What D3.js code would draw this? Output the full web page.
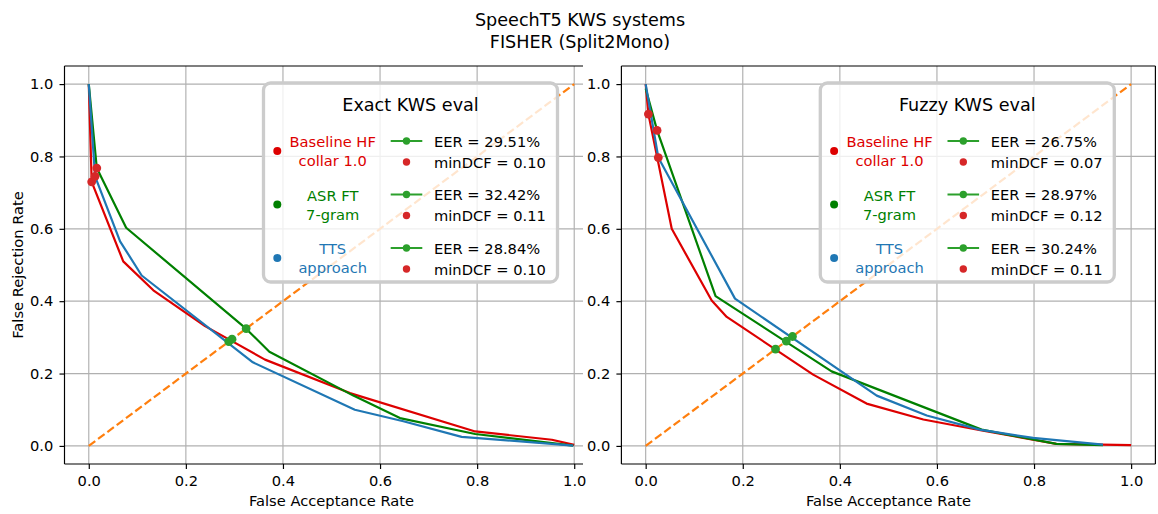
<!DOCTYPE html>
<html>
<head>
<meta charset="utf-8">
<script src="https://cdn.jsdelivr.net/npm/d3@7"></script>
<style>
  body { margin: 0; background: #fff; }
  svg { display: block; font-family: "DejaVu Sans", sans-serif; }
</style>
</head>
<body>
<svg id="chart" width="1158" height="514"></svg>
<script>
// ---- figure text ----
const figureTitle = ["SpeechT5 KWS systems", "FISHER (Split2Mono)"];
const xAxisLabel = "False Acceptance Rate";
const yAxisLabel = "False Rejection Rate";
const axisTicks = [0, 0.2, 0.4, 0.6, 0.8, 1.0];
const tickLabels = ["0.0", "0.2", "0.4", "0.6", "0.8", "1.0"];
const panelTitles = ["Exact KWS eval", "Fuzzy KWS eval"];
const systemNames = [["Baseline HF", "collar 1.0"], ["ASR FT", "7-gram"], ["TTS", "approach"]];

// ---- exact evaluation: DET curves (false acceptance, false rejection) ----
const exactBaselineFar = [0, 0.006, 0.071, 0.133, 0.2395, 0.363, 0.538, 0.796, 0.954, 1.0];
const exactBaselineFrr = [1.0, 0.730, 0.510, 0.430, 0.331, 0.2385, 0.146, 0.040, 0.017, 0.003];
const exactAsrFar = [0, 0.0165, 0.077, 0.324, 0.372, 0.545, 0.641, 0.796, 0.998];
const exactAsrFrr = [1.0, 0.768, 0.603, 0.324, 0.260, 0.139, 0.077, 0.033, 0.001];
const exactTtsFar = [0, 0.013, 0.0645, 0.109, 0.338, 0.548, 0.648, 0.768, 0.998];
const exactTtsFrr = [1.0, 0.745, 0.5655, 0.471, 0.231, 0.100, 0.068, 0.025, 0.001];
const exactEer = [29.51, 32.42, 28.84];
const exactMinDcf = [0.10, 0.11, 0.10];
const exactMinDcfFar = [0.006, 0.0165, 0.013];
const exactMinDcfFrr = [0.730, 0.768, 0.745];

// ---- fuzzy evaluation ----
const fuzzyBaselineFar = [0, 0.0056, 0.0537, 0.136, 0.167, 0.191, 0.345, 0.455, 0.572, 0.695, 0.846, 1.0];
const fuzzyBaselineFrr = [1.0, 0.917, 0.600, 0.402, 0.3565, 0.335, 0.197, 0.117, 0.073, 0.042, 0.0055, 0.002];
const fuzzyAsrFar = [0, 0.0235, 0.144, 0.383, 0.692, 0.846, 0.942];
const fuzzyAsrFrr = [0.988, 0.872, 0.414, 0.206, 0.045, 0.0055, 0.002];
const fuzzyTtsFar = [0, 0.026, 0.184, 0.476, 0.579, 0.688, 0.798, 0.942];
const fuzzyTtsFrr = [1.0, 0.797, 0.407, 0.139, 0.084, 0.045, 0.022, 0.0036];
const fuzzyEer = [26.75, 28.97, 30.24];
const fuzzyMinDcf = [0.07, 0.12, 0.11];
const fuzzyMinDcfFar = [0.0056, 0.0235, 0.026];
const fuzzyMinDcfFrr = [0.917, 0.872, 0.797];

// ---- styling ----
const systemColors = ["#dd0000", "#008000", "#1f77b4"];
const eerColor = "#2ca02c";
const dcfColor = "#d62728";
const diagColor = "#ff7f0e";
const gridColor = "#b0b0b0";
const fsTick = 14.66, fsTitle = 17.6;

const svg = d3.select("#chart");

function zipCurve(far, frr) { return far.map((v, i) => [v, frr[i]]); }

function drawPanel(cfg) {
  const g = svg.append("g");
  const x = d3.scaleLinear().domain([-0.05, 1.05]).range([cfg.left, cfg.left + 534]);
  const y = d3.scaleLinear().domain([-0.05, 1.05]).range([464, 66]);
  const frameRight = cfg.frameRight;
  const top = 66, bottom = 464;

  // grid
  g.append("g").selectAll("line").data(axisTicks).join("line")
    .attr("x1", d => x(d)).attr("x2", d => x(d)).attr("y1", top).attr("y2", bottom)
    .attr("stroke", gridColor).attr("stroke-width", 1.17);
  g.append("g").selectAll("line").data(axisTicks).join("line")
    .attr("x1", cfg.left).attr("x2", frameRight).attr("y1", d => y(d)).attr("y2", d => y(d))
    .attr("stroke", gridColor).attr("stroke-width", 1.17);

  // diagonal reference
  const line = d3.line().x(d => x(d[0])).y(d => y(d[1]));
  g.append("path").datum([[0, 0], [1, 1]]).attr("d", line)
    .attr("fill", "none").attr("stroke", diagColor).attr("stroke-width", 2.2)
    .attr("stroke-dasharray", "8.1,3.5");

  // curves
  cfg.curves.forEach((c, i) => {
    g.append("path").datum(c).attr("d", line)
      .attr("fill", "none").attr("stroke", systemColors[i]).attr("stroke-width", 2.2)
      .attr("stroke-linejoin", "round");
  });
  // EER markers
  cfg.eer.forEach(e => {
    g.append("circle").attr("cx", x(e / 100)).attr("cy", y(e / 100)).attr("r", 4.4).attr("fill", eerColor);
  });
  // minDCF operating points
  cfg.dcfFar.forEach((f, i) => {
    g.append("circle").attr("cx", x(f)).attr("cy", y(cfg.dcfFrr[i])).attr("r", 4.4).attr("fill", dcfColor);
  });

  // spines
  const sp = g.append("g").attr("stroke", "#000").attr("stroke-width", 1.17).attr("fill", "none");
  sp.append("line").attr("x1", cfg.left).attr("x2", cfg.left).attr("y1", top).attr("y2", bottom);
  sp.append("line").attr("x1", cfg.left).attr("x2", frameRight).attr("y1", top).attr("y2", top);
  sp.append("line").attr("x1", cfg.left).attr("x2", frameRight).attr("y1", bottom).attr("y2", bottom);
  if (cfg.rightSpine) sp.append("line").attr("x1", frameRight).attr("x2", frameRight).attr("y1", top).attr("y2", bottom);

  // axes
  const xa = g.append("g").attr("transform", `translate(0,${bottom})`)
    .call(d3.axisBottom(x).tickValues(axisTicks).tickFormat((d, i) => tickLabels[i]).tickSize(5).tickPadding(7));
  const ya = g.append("g").attr("transform", `translate(${cfg.left},0)`)
    .call(d3.axisLeft(y).tickValues(axisTicks).tickFormat((d, i) => tickLabels[i]).tickSize(5).tickPadding(6.2));
  [xa, ya].forEach(a => {
    a.select(".domain").remove();
    a.selectAll("line").attr("stroke", "#000").attr("stroke-width", 1.17);
    a.selectAll("text").attr("font-size", fsTick).attr("fill", "#000")
      .attr("font-family", "DejaVu Sans, sans-serif");
  });

  // x label
  g.append("text").attr("x", (cfg.left + cfg.left + 534) / 2).attr("y", 500)
    .attr("text-anchor", "middle").attr("dominant-baseline", "central")
    .attr("font-size", fsTick).text(xAxisLabel);

  // legend
  const dx = cfg.legendDx;
  const lg = g.append("g");
  lg.append("rect").attr("x", 263.5 + dx).attr("y", 83).attr("width", 294).attr("height", 199)
    .attr("rx", 7).attr("fill", "#fff").attr("fill-opacity", 0.8)
    .attr("stroke", "#cccccc").attr("stroke-width", 3.3);
  lg.append("text").attr("x", 410.5 + dx).attr("y", 105)
    .attr("text-anchor", "middle").attr("dominant-baseline", "central")
    .attr("font-size", fsTitle).attr("fill", "#000").text(cfg.title);
  const rowY = [151, 204.5, 258];
  systemNames.forEach((nm, i) => {
    const ry = rowY[i];
    lg.append("circle").attr("cx", 277.3 + dx).attr("cy", ry).attr("r", 4).attr("fill", systemColors[i]);
    nm.forEach((t, k) => {
      lg.append("text").attr("x", 332.7 + dx).attr("y", ry - 9.5 + k * 19)
        .attr("text-anchor", "middle").attr("dominant-baseline", "central")
        .attr("font-size", fsTick).attr("fill", systemColors[i]).text(t);
    });
    lg.append("line").attr("x1", 390.7 + dx).attr("x2", 422.3 + dx).attr("y1", ry - 10).attr("y2", ry - 10)
      .attr("stroke", eerColor).attr("stroke-width", 2.2);
    lg.append("circle").attr("cx", 406.5 + dx).attr("cy", ry - 10).attr("r", 3.7).attr("fill", eerColor);
    lg.append("text").attr("x", 434 + dx).attr("y", ry - 10).attr("dominant-baseline", "central")
      .attr("font-size", fsTick).attr("fill", "#000").text(`EER = ${cfg.eer[i].toFixed(2)}%`);
    lg.append("circle").attr("cx", 406.5 + dx).attr("cy", ry + 11).attr("r", 3.7).attr("fill", dcfColor);
    lg.append("text").attr("x", 434 + dx).attr("y", ry + 11).attr("dominant-baseline", "central")
      .attr("font-size", fsTick).attr("fill", "#000").text(`minDCF = ${cfg.dcf[i].toFixed(2)}`);
  });
}

drawPanel({
  left: 64.5, frameRight: 583, rightSpine: false, legendDx: 0, title: panelTitles[0],
  curves: [zipCurve(exactBaselineFar, exactBaselineFrr), zipCurve(exactAsrFar, exactAsrFrr), zipCurve(exactTtsFar, exactTtsFrr)],
  eer: exactEer, dcf: exactMinDcf, dcfFar: exactMinDcfFar, dcfFrr: exactMinDcfFrr
});
drawPanel({
  left: 621.4, frameRight: 1155.4, rightSpine: true, legendDx: 556.8, title: panelTitles[1],
  curves: [zipCurve(fuzzyBaselineFar, fuzzyBaselineFrr), zipCurve(fuzzyAsrFar, fuzzyAsrFrr), zipCurve(fuzzyTtsFar, fuzzyTtsFrr)],
  eer: fuzzyEer, dcf: fuzzyMinDcf, dcfFar: fuzzyMinDcfFar, dcfFrr: fuzzyMinDcfFrr
});

// y label on the first panel
svg.append("text").attr("transform", "translate(17,265) rotate(-90)")
  .attr("text-anchor", "middle").attr("dominant-baseline", "central")
  .attr("font-size", fsTick).text(yAxisLabel);

// figure title
figureTitle.forEach((t, i) => {
  svg.append("text").attr("x", 580).attr("y", 20 + i * 21.7)
    .attr("text-anchor", "middle").attr("dominant-baseline", "central")
    .attr("font-size", fsTitle).attr("fill", "#000").text(t);
});
</script>
</body>
</html>
